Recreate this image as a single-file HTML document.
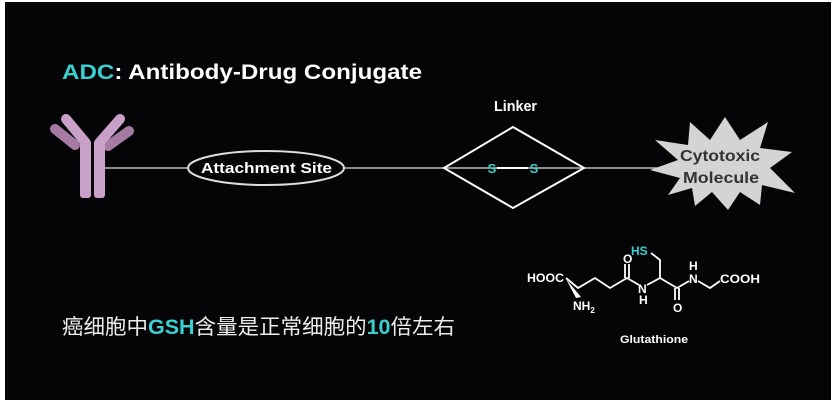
<!DOCTYPE html>
<html><head><meta charset="utf-8"><style>
html,body{margin:0;padding:0;background:#fff;}
body{width:834px;height:403px;position:relative;overflow:hidden;font-family:"Liberation Sans","Noto Sans CJK SC",sans-serif;}
#bg{position:absolute;left:5px;top:2px;width:826px;height:398px;background:#050507;}
</style></head><body>
<div id="bg"></div>
<svg width="834" height="403" style="position:absolute;left:0;top:0" font-family="Liberation Sans, Noto Sans CJK SC, sans-serif">
<text x="62" y="79" font-size="21" font-weight="bold" fill="#fff" textLength="360" lengthAdjust="spacingAndGlyphs"><tspan fill="#3ccfcf">ADC</tspan>: Antibody-Drug Conjugate</text>
<!-- antibody -->
<g stroke-linecap="round">
<line x1="55" y1="129" x2="75" y2="145" stroke="#a57aa3" stroke-width="10"/>
<line x1="129" y1="131" x2="108" y2="146" stroke="#a57aa3" stroke-width="10"/>
<line x1="66" y1="119" x2="86" y2="143" stroke="#c9a0c8" stroke-width="10"/>
<line x1="120" y1="119" x2="99" y2="143" stroke="#c9a0c8" stroke-width="10"/>
</g>
<rect x="80" y="140" width="11" height="58" rx="3" fill="#c9a0c8"/>
<rect x="94" y="140" width="11" height="58" rx="3" fill="#c9a0c8"/>
<line x1="105" y1="168" x2="660" y2="168" stroke="#bbb" stroke-width="1.5"/>
<ellipse cx="266" cy="168" rx="78" ry="17" fill="#050507" stroke="#ddd" stroke-width="2"/>
<text x="201" y="173" font-size="15" font-weight="bold" fill="#fff" textLength="131" lengthAdjust="spacingAndGlyphs">Attachment Site</text>
<text x="494" y="111" font-size="15" font-weight="bold" fill="#fff" textLength="43" lengthAdjust="spacingAndGlyphs">Linker</text>
<polygon points="444,168 513,127 584,168 513,208" fill="none" stroke="#fff" stroke-width="2"/>
<line x1="497" y1="168" x2="528" y2="168" stroke="#fff" stroke-width="2"/>
<text x="492" y="173" font-size="13" font-weight="bold" fill="#3ccfcf" text-anchor="middle">S</text>
<text x="534" y="173" font-size="13" font-weight="bold" fill="#3ccfcf" text-anchor="middle">S</text>
<polygon points="725,117 740,140 768,122 760,148 792,152 770,168 795,193 762,185 760,205 740,192 728,210 712,192 695,206 692,188 668,195 680,178 650,170 678,160 655,140 688,145 690,122 710,140" fill="#d4d4d4"/>
<text x="680" y="161" font-size="16" font-weight="bold" fill="#333" textLength="80" lengthAdjust="spacingAndGlyphs">Cytotoxic</text>
<text x="683" y="183" font-size="16" font-weight="bold" fill="#333" textLength="76" lengthAdjust="spacingAndGlyphs">Molecule</text>
<!-- glutathione -->
<g stroke="#fff" stroke-width="1.8" fill="none">
<polyline points="566,278 578,288 595,278 610,288 627,278 639,285"/>
<line x1="625" y1="278" x2="625" y2="264"/><line x1="629" y1="278" x2="629" y2="264"/>
<polyline points="647,285 660,278 677,288 689,281"/>
<polyline points="660,278 660,260 651,253"/>
<line x1="675" y1="288" x2="675" y2="300"/><line x1="679" y1="288" x2="679" y2="300"/>
<polyline points="698,281 710,288 720,281"/>
</g>
<polygon points="566,279 576,298 581,297" fill="#fff"/>
<g font-size="12" font-weight="bold" fill="#fff">
<text x="527" y="282" textLength="37" lengthAdjust="spacingAndGlyphs">HOOC</text>
<text x="623" y="263">O</text>
<text x="638" y="293">N</text><text x="639" y="304">H</text>
<text x="631" y="255" fill="#3ccfcf">HS</text>
<text x="673" y="312">O</text>
<text x="689" y="283">N</text><text x="689" y="270">H</text>
<text x="720" y="283" textLength="40" lengthAdjust="spacingAndGlyphs">COOH</text>
<text x="573" y="310">NH<tspan font-size="8" dy="3">2</tspan></text>
<text x="620" y="343" font-size="11" textLength="68" lengthAdjust="spacingAndGlyphs">Glutathione</text>
</g>
<text x="62" y="334" font-size="21" fill="#eee" textLength="393" lengthAdjust="spacingAndGlyphs">癌细胞中<tspan fill="#3ccfcf" font-weight="bold">GSH</tspan>含量是正常细胞的<tspan fill="#3ccfcf" font-weight="bold">10</tspan>倍左右</text>
</svg>
</body></html>
